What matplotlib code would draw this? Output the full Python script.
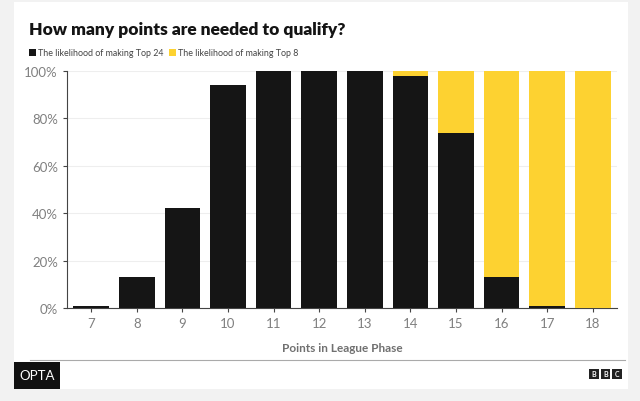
import matplotlib.pyplot as plt
from matplotlib.patches import Rectangle

points = [7, 8, 9, 10, 11, 12, 13, 14, 15, 16, 17, 18]
top24 = [1, 13, 42, 94, 100, 100, 100, 98, 74, 13, 1, 0]
top8 = [0, 0, 0, 0, 0, 0, 0, 2, 26, 87, 99, 100]
yticks = [0, 20, 40, 60, 80, 100]

black = '#151515'
yellow = '#fdd231'
plt.rcParams['font.family'] = ['Lato', 'DejaVu Sans']

fig = plt.figure(figsize=(6.4, 4.02), dpi=100)
fig.patch.set_facecolor('#f2f2f2')
# white card behind everything
fig.patches.append(Rectangle((14/640, 1 - 390/402), 614/640, 387/402,
                             transform=fig.transFigure, facecolor='white',
                             edgecolor='none', zorder=-5))

ax = fig.add_axes([67/640, 1 - 309/402, 550/640, 237/402])
ax.set_facecolor('white')
ax.bar(points, top24, width=0.78, color=black, zorder=3)
ax.bar(points, top8, width=0.78, bottom=top24, color=yellow, zorder=3)

ax.set_xlim(6.47, 18.53)
ax.set_ylim(0, 100)
ax.set_xticks(points)
ax.set_xticklabels([str(p) for p in points])
ax.set_yticks(yticks)
ax.set_yticklabels([f'{v}%' for v in yticks])
ax.grid(axis='y', color='#eeeeee', linewidth=0.8, zorder=0)
for s in ['top', 'right']:
    ax.spines[s].set_visible(False)
ax.spines['left'].set_color('#444444')
ax.spines['bottom'].set_color('#444444')
ax.tick_params(colors='#444444', labelcolor='#808080', labelsize=9.5, length=3)
ax.set_xlabel('Points in League Phase', fontsize=8.5, fontweight='bold',
              color='#707070', labelpad=9)

fig.text(29/640, 1 - 30/402, 'How many points are needed to qualify?',
         fontsize=12.5, fontweight='heavy', color='#141414', va='center')

# legend
fig.patches.append(Rectangle((29/640, 1 - 57/402), 7/640, 7/402,
                             transform=fig.transFigure, facecolor=black))
fig.text(38/640, 1 - 53.5/402, 'The likelihood of making Top 24',
         fontsize=6.4, color='#444444', va='center')
fig.patches.append(Rectangle((169/640, 1 - 57/402), 7/640, 7/402,
                             transform=fig.transFigure, facecolor=yellow))
fig.text(178/640, 1 - 53.5/402, 'The likelihood of making Top 8',
         fontsize=6.4, color='#444444', va='center')

# footer
fig.add_artist(plt.Line2D([30/640, 625/640], [1 - 361/402, 1 - 361/402],
                          transform=fig.transFigure, color='#aaaaaa', lw=0.8))
fig.patches.append(Rectangle((14/640, 1 - 390/402), 46/640, 27/402,
                             transform=fig.transFigure, facecolor='#111111'))
fig.text(37/640, 1 - 376.5/402, 'OPTA', fontsize=9.5, color='white',
         ha='center', va='center')
for i, ch in enumerate('BBC'):
    x0 = 589 + i * 11.5
    fig.patches.append(Rectangle((x0/640, 1 - 380/402), 9.5/640, 10/402,
                                 transform=fig.transFigure, facecolor='#222222'))
    fig.text((x0 + 4.75)/640, 1 - 375/402, ch, fontsize=5, color='white',
             ha='center', va='center', fontweight='bold')

fig.savefig('out.png', dpi=100, facecolor=fig.get_facecolor())
